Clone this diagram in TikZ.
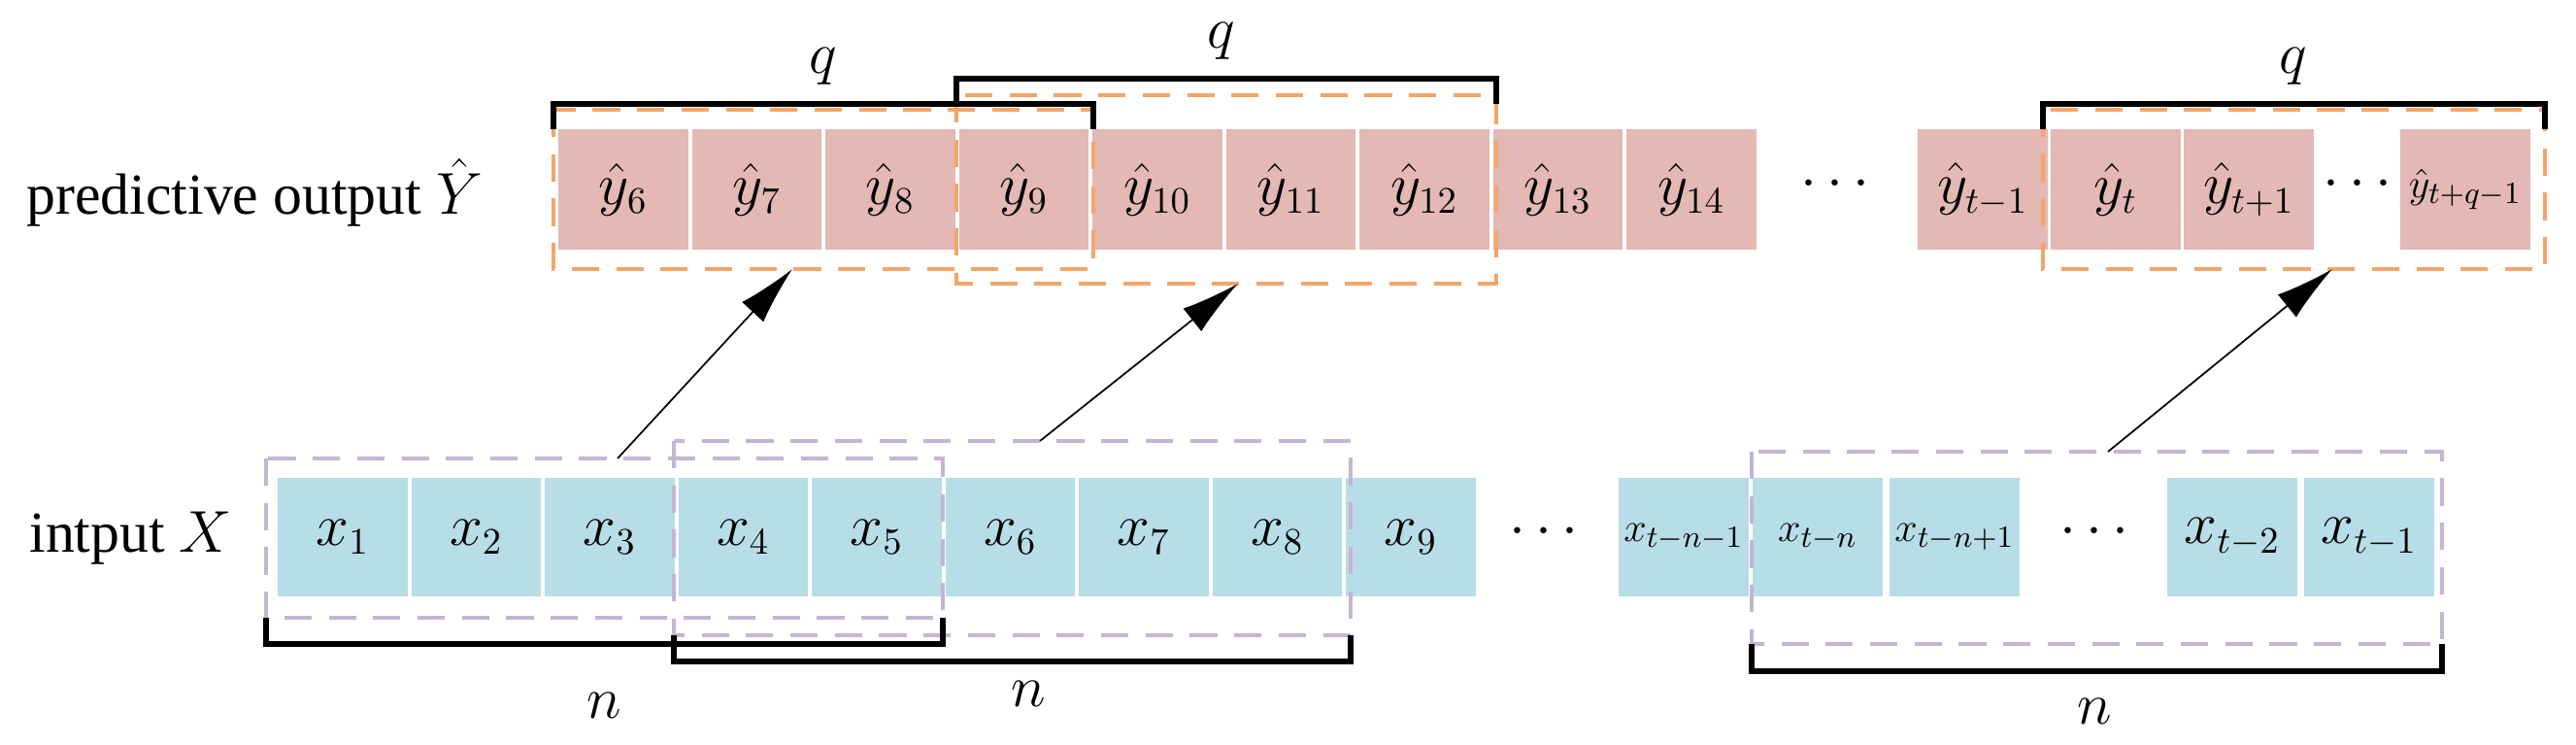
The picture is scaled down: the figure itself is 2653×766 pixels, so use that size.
\documentclass[tikz,border=0pt]{standalone}
\usepackage{fontspec}
\setmainfont{Liberation Serif}
\usetikzlibrary{arrows.meta}
\definecolor{pk}{HTML}{E3B8B5}
\definecolor{bl}{HTML}{B7DDE7}
\definecolor{og}{HTML}{F4A56A}
\definecolor{pu}{HTML}{C3B5D3}
\begin{document}
\begin{tikzpicture}[x=0.01cm,y=-0.01cm,
  ycell/.style={fill=pk,minimum width=1.33cm,minimum height=1.23cm,inner sep=0,font=\fontsize{16}{16}\selectfont},
  xcell/.style={fill=bl,minimum width=1.33cm,minimum height=1.22cm,inner sep=0,font=\fontsize{16}{16}\selectfont},
  small/.style={font=\fontsize{13}{13}\selectfont},
  obox/.style={draw=og,dashed,line width=1.4pt,dash pattern=on 8pt off 5pt},
  pbox/.style={draw=pu,dashed,line width=1.4pt,dash pattern=on 8pt off 5pt},
  brk/.style={draw=black,line width=1.6pt},
  lab/.style={font=\fontsize{17}{17}\selectfont},
  arr/.style={-{Latex[length=6mm,width=3mm]},line width=0.5pt}]
\useasboundingbox (0,0) rectangle (2653,766);
% labels
\node[lab,anchor=west] (ly) at (15,198) {predictive output $\hat{Y}$};
\node[lab,anchor=west] (lx) at (18,554) {intput $X$};
% top cells
\foreach \i/\t [count=\k from 0] in {6/\hat{y}_6,7/\hat{y}_7,8/\hat{y}_8,9/\hat{y}_9,10/\hat{y}_{10},11/\hat{y}_{11},12/\hat{y}_{12},13/\hat{y}_{13},14/\hat{y}_{14}}
  \node[ycell] (y\i) at (642+\k*137.5,195) {$\t$};
\node[lab] (yd1) at (1890,190) {$\cdots$};
\node[ycell] (ytm1) at (2042,195) {$\hat{y}_{t-1}$};
\node[ycell] (yt) at (2179,195) {$\hat{y}_{t}$};
\node[ycell] (ytp1) at (2316,195) {$\hat{y}_{t+1}$};
\node[lab] (yd2) at (2428,190) {$\cdots$};
\node[ycell,small] (ytq) at (2539,195) {$\hat{y}_{t+q-1}$};
% bottom cells
\foreach \i [count=\k from 0] in {1,...,9}
  \node[xcell] (x\i) at (353+\k*137.5,553) {$x_{\i}$};
\node[lab] (xd1) at (1590,548) {$\cdots$};
\node[xcell,small] (xa) at (1734,553) {$x_{t-n-1}$};
\node[xcell,small] (xb) at (1872,553) {$x_{t-n}$};
\node[xcell,small] (xc) at (2013,553) {$x_{t-n+1}$};
\node[lab] (xd2) at (2157,548) {$\cdots$};
\node[xcell] (xd) at (2299,553) {$x_{t-2}$};
\node[xcell] (xe) at (2440,553) {$x_{t-1}$};
% orange dashed windows
\draw[obox] (570,113) rectangle (1126,277);
\draw[obox] (985,98) rectangle (1541,292);
\draw[obox] (2104,113) rectangle (2621,277);
% purple dashed windows
\draw[pbox] (274,472) rectangle (971,636);
\draw[pbox] (694,454) rectangle (1391,654);
\draw[pbox] (1804,465) rectangle (2515,663);
% q brackets
\draw[brk] (570,133) -- (570,107) -- (1126,107) -- (1126,133);
\draw[brk] (985,107) -- (985,81) -- (1541,81) -- (1541,107);
\draw[brk] (2104,133) -- (2104,107) -- (2621,107) -- (2621,133);
\node[lab] (q1) at (848,68) {$q$};
\node[lab] (q2) at (1258,42) {$q$};
\node[lab] (q3) at (2362,68) {$q$};
% n brackets
\draw[brk] (274,636) -- (274,663) -- (971,663) -- (971,636);
\draw[brk] (694,654) -- (694,681) -- (1391,681) -- (1391,654);
\draw[brk] (1804,663) -- (1804,691) -- (2515,691) -- (2515,663);
\node[lab] (n1) at (622,726) {$n$};
\node[lab] (n2) at (1059,714) {$n$};
\node[lab] (n3) at (2157,732) {$n$};
% arrows
\coordinate (s1) at (636,472); \coordinate (e1) at (816,277);
\coordinate (s2) at (1071,454); \coordinate (e2) at (1275,292);
\coordinate (s3) at (2171,465); \coordinate (e3) at (2402,277);
\draw[arr] (s1) -- (e1);
\draw[arr] (s2) -- (e2);
\draw[arr] (s3) -- (e3);
\end{tikzpicture}
\end{document}
